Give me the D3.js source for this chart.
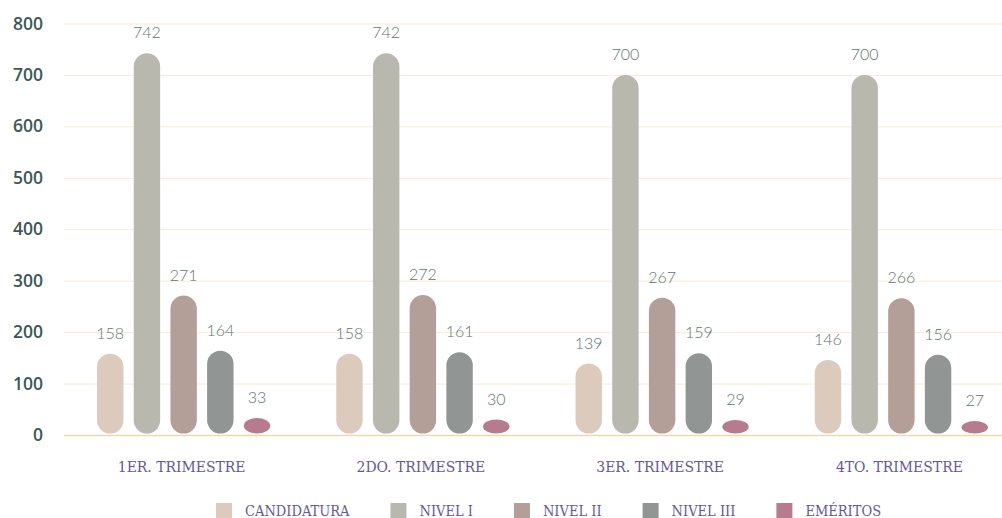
<!DOCTYPE html>
<html lang="es">
<head>
	<meta charset="utf-8">
	<title>Trimestres</title>
	<script type="text/javascript" src="https://cdn.jsdelivr.net/npm/d3@7/dist/d3.min.js" charset="utf-8"></script>
	<style>
		body { margin: 0; background: #fff; }
		.slab { font-family: "DejaVu Serif", serif; font-stretch: condensed; fill: #66579a; }
	</style>
</head>
<body>
	<script type="text/javascript">
		// datos
		var trimestres = ["1ER. TRIMESTRE", "2DO. TRIMESTRE", "3ER. TRIMESTRE", "4TO. TRIMESTRE"];
		var series = ["CANDIDATURA", "NIVEL I", "NIVEL II", "NIVEL III", "EMÉRITOS"];
		var candidatura = [158, 158, 139, 146];
		var nivel1 = [742, 742, 700, 700];
		var nivel2 = [271, 272, 267, 266];
		var nivel3 = [164, 161, 159, 156];
		var emeritos = [33, 30, 29, 27];
		var yTicks = [0, 100, 200, 300, 400, 500, 600, 700, 800];
		var colores = ["#dccabd", "#b8b8af", "#b49f98", "#919594", "#b67b8e"];

		var valores = [candidatura, nivel1, nivel2, nivel3, emeritos];

		var width = 1002, height = 518;
		var svg = d3.select("body")
					.append("svg")
					.attr("width", width)
					.attr("height", height);

		var x0 = d3.scaleBand()
					.domain(trimestres)
					.range([64, 1021])
					.padding(0);
		var x1 = d3.scaleBand()
					.domain(series)
					.range([0, x0.bandwidth()])
					.paddingInner(0.28)
					.paddingOuter(0.9);
		var yScale = d3.scaleLinear()
					.domain([0, 800])
					.range([435, 23.5]);

		// y axis + grid
		var yAxis = d3.axisLeft(yScale)
					.tickValues(yTicks)
					.tickSize(-(width - 64))
					.tickPadding(21);
		var gy = svg.append("g")
				.attr("transform", "translate(64,0)")
				.call(yAxis);
		gy.select(".domain").remove();
		gy.selectAll(".tick line")
			.attr("stroke", function(d){ return d == 0 ? "#ecd9ae" : "#f6ebd6"; })
			.attr("stroke-width", function(d){ return d == 0 ? 1.5 : 1; });
		gy.selectAll(".tick text")
			.attr("fill", "#3b5856")
			.style("font-family", "'Open Sans', sans-serif")
			.style("font-weight", "600")
			.style("font-size", "17.5px");

		// x axis
		var xAxis = d3.axisBottom(x0).tickSize(0).tickPadding(26);
		var gx = svg.append("g")
				.attr("transform", "translate(-2,435)")
				.call(xAxis);
		gx.select(".domain").remove();
		gx.selectAll(".tick text")
			.attr("class", "slab")
			.attr("fill", null)
			.style("font-size", "15.5px");

		// barras
		var filas = [];
		trimestres.forEach(function(t, i){
			series.forEach(function(s, j){
				filas.push({trim: t, serie: s, value: valores[j][i], color: colores[j]});
			});
		});

		var grupos = svg.append("g");
		grupos.selectAll("rect")
			.data(filas)
			.enter()
			.append("rect")
			.attr("x", function(d){ return x0(d.trim) + x1(d.serie); })
			.attr("y", function(d){ return yScale(d.value); })
			.attr("width", x1.bandwidth())
			.attr("height", function(d){ return yScale(0) - yScale(d.value) - 1.5; })
			.attr("rx", x1.bandwidth() / 2)
			.attr("ry", x1.bandwidth() / 2)
			.style("fill", function(d){ return d.color; });

		grupos.selectAll("text")
			.data(filas)
			.enter()
			.append("text")
			.attr("x", function(d){ return x0(d.trim) + x1(d.serie) + x1.bandwidth() / 2; })
			.attr("y", function(d){ return yScale(d.value) - 15; })
			.attr("text-anchor", "middle")
			.style("font-family", "Lato, sans-serif")
			.style("font-weight", "300")
			.style("font-size", "16px")
			.style("fill", "#5f7570")
			.text(function(d){ return d.value; });

		// leyenda
		var leyenda = svg.append("g");
		var lx = 216;
		series.forEach(function(s, j){
			leyenda.append("rect")
				.attr("x", lx).attr("y", 503)
				.attr("width", 16).attr("height", 15)
				.style("fill", colores[j]);
			var t = leyenda.append("text")
				.attr("class", "slab")
				.attr("x", lx + 29).attr("y", 515.5)
				.style("font-size", "14.5px")
				.text(s);
			lx = lx + 29 + t.node().getComputedTextLength() + 41;
		});
	</script>
</body>
</html>
